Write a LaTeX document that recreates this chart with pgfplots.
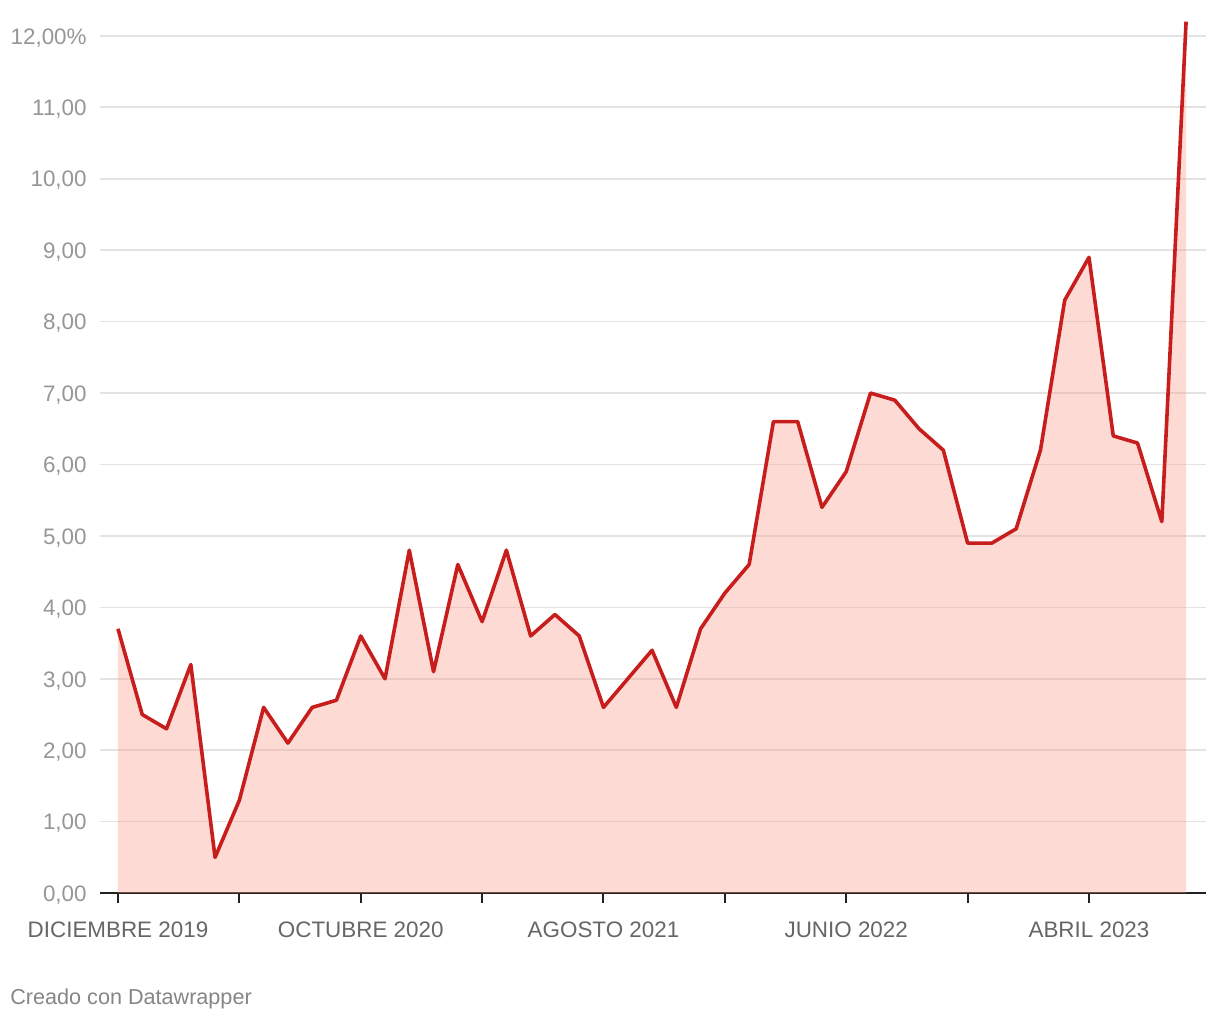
\documentclass[border=0pt]{standalone}
\usepackage{pgfplots}
\pgfplotsset{compat=1.18}
\usepackage{fontspec}
\setmainfont{Liberation Sans}
\definecolor{linered}{HTML}{C71E1D}
\definecolor{fillred}{HTML}{FA9C88}
\definecolor{gridgray}{HTML}{E3E3E3}
\definecolor{ylab}{HTML}{969696}
\definecolor{xlab}{HTML}{666666}
\definecolor{credit}{HTML}{858585}
\definecolor{axisdark}{HTML}{222222}
\pgfplotstableread{
x y
0 3.7
1 2.5
2 2.3
3 3.2
4 0.5
5 1.3
6 2.6
7 2.1
8 2.6
9 2.7
10 3.6
11 3.0
12 4.8
13 3.1
14 4.6
15 3.8
16 4.8
17 3.6
18 3.9
19 3.6
20 2.6
21 3.0
22 3.4
23 2.6
24 3.7
25 4.2
26 4.6
27 6.6
28 6.6
29 5.4
30 5.9
31 7.0
32 6.9
33 6.5
34 6.2
35 4.9
36 4.9
37 5.1
38 6.2
39 8.3
40 8.9
41 6.4
42 6.3
43 5.2
44 12.2
}\datatable
\begin{document}
\begin{tikzpicture}
\begin{axis}[name=ax, at={(0,0)}, anchor=south west,
 scale only axis, width=552.9pt, height=437.5pt,
 xmin=-0.74, xmax=44.82, ymin=0, ymax=12.25,
 axis x line*=bottom, axis y line*=left,
 y axis line style={draw=none},
 x axis line style={axisdark, line width=1pt},
 xtick={0,5,...,40},
 xticklabels={DICIEMBRE 2019,,OCTUBRE 2020,,AGOSTO 2021,,JUNIO 2022,,ABRIL 2023},
 x tick style={axisdark, line width=1pt},
 tick align=outside, major tick length=5pt,
 ytick={0,1,...,12},
 yticklabels={{0,00},{1,00},{2,00},{3,00},{4,00},{5,00},{6,00},{7,00},{8,00},{9,00},{10,00},{11,00},{12,00\%}},
 y tick style={draw=none},
 ymajorgrids, grid style={gridgray, line width=0.8pt},
 yticklabel style={anchor=base east, inner sep=0pt, xshift=-1.5pt, yshift=-4.1pt, font=\fontsize{11.2}{13}\selectfont, text=ylab},
 xticklabel style={anchor=base, inner sep=0pt, yshift=-17pt, font=\fontsize{11.2}{13}\selectfont, text=xlab},
 clip=false,
]
\addplot[draw=none, fill=fillred, fill opacity=0.36] table[x=x,y=y] {\datatable} \closedcycle;
\addplot[linered, line width=1.8pt, line join=round] table[x=x,y=y] {\datatable};
\end{axis}
\node[anchor=base west, inner sep=0pt, font=\fontsize{10.8}{13}\selectfont, text=credit] at ([xshift=-45pt, yshift=-55.5pt]ax.south west) {Creado con Datawrapper};
\pgfresetboundingbox
\path ([xshift=-50pt,yshift=-63.5pt]ax.south west) rectangle ([xshift=7pt,yshift=9pt]ax.north east);
\end{tikzpicture}
\end{document}
